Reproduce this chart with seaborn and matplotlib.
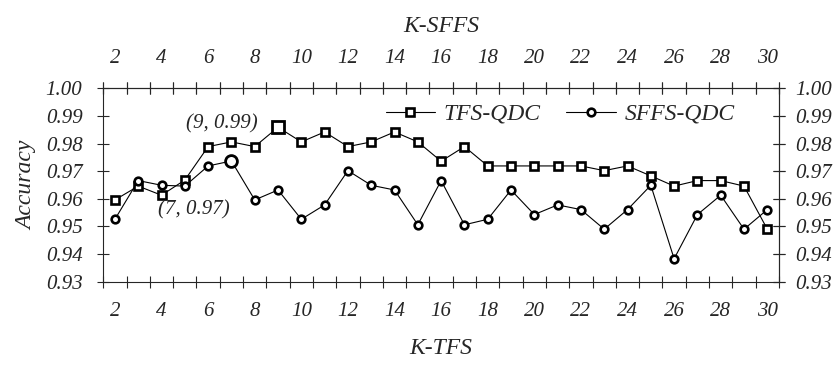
import matplotlib
matplotlib.use("Agg")
import matplotlib.pyplot as plt
import seaborn as sns
from matplotlib.ticker import FixedLocator, NullFormatter

# Number of selected features (shared category axis)
k_values = list(range(2, 31))

# Accuracy per feature count
tfs_qdc = [0.9596, 0.9646, 0.9613, 0.9668, 0.9789, 0.9806, 0.9789, 0.9859, 0.9806,
           0.9842, 0.9789, 0.9806, 0.9842, 0.9806, 0.9736, 0.9789, 0.9719, 0.9719,
           0.9719, 0.9719, 0.9719, 0.9702, 0.9719, 0.9683, 0.9646, 0.9666, 0.9666,
           0.9646, 0.9490]
sffs_qdc = [0.9526, 0.9666, 0.9649, 0.9646, 0.9719, 0.9737, 0.9596, 0.9632, 0.9526,
            0.9578, 0.9702, 0.9649, 0.9632, 0.9506, 0.9666, 0.9506, 0.9526, 0.9632,
            0.9543, 0.9578, 0.9561, 0.9490, 0.9561, 0.9649, 0.9383, 0.9543, 0.9613,
            0.9490, 0.9561]

series_names = ["TFS-QDC", "SFFS-QDC"]
best_k = [9, 7]
best_labels = ["(9, 0.99)", "(7, 0.97)"]
y_ticks = [0.93, 0.94, 0.95, 0.96, 0.97, 0.98, 0.99, 1.00]
x_labels = k_values[::2]

sns.set_style("ticks")
plt.rcParams["font.family"] = ["Liberation Serif", "DejaVu Serif"]
plt.rcParams["font.style"] = "italic"

fig = plt.figure(figsize=(8.35, 3.67), dpi=100)
ax = fig.add_axes([0.1237, 0.2324, 0.8092, 0.527])

line_kw = dict(color="black", linewidth=0.8, markerfacecolor="white",
               markeredgecolor="black", markeredgewidth=1.9, markersize=5.5)
sns.lineplot(x=k_values, y=tfs_qdc, marker="s", ax=ax, **line_kw)
sns.lineplot(x=k_values, y=sffs_qdc, marker="o", ax=ax, **line_kw)
handles = ax.get_lines()[:2]

# highlighted best points
for vals, mk, kb in zip([tfs_qdc, sffs_qdc], ["s", "o"], best_k):
    i = k_values.index(kb)
    ax.plot([kb], [vals[i]], marker=mk, markersize=8.5, markerfacecolor="white",
            markeredgecolor="black", markeredgewidth=2.0, linestyle="none")

ax.annotate(best_labels[0], xy=(6.58, 0.9873), ha="center", va="center", fontsize=15)
ax.annotate(best_labels[1], xy=(5.38, 0.9560), ha="center", va="center", fontsize=15)

ax.legend(handles, series_names, ncol=2, frameon=False, fontsize=17,
          loc="center", bbox_to_anchor=(0.676, 0.867), handlelength=2.1,
          handletextpad=0.35, columnspacing=1.1, borderpad=0)

half_ticks = [k - 0.5 for k in k_values] + [k_values[-1] + 0.5]
ax.set_xlim(half_ticks[0], half_ticks[-1])
ax.set_ylim(y_ticks[0], y_ticks[-1])

ax.set_xticks(x_labels)
ax.set_xticklabels([str(k) for k in x_labels])
ax.xaxis.set_minor_locator(FixedLocator(half_ticks))
ax.tick_params(axis="x", which="major", length=0, pad=14.5, labelsize=15)
ax.tick_params(axis="x", which="minor", direction="inout", length=9, width=0.8,
               top=True, bottom=True)
ax.set_yticks(y_ticks)
ax.set_yticklabels([f"{v:.2f}" for v in y_ticks])
ax.tick_params(axis="y", which="major", direction="inout", length=9, width=0.8,
               pad=10.5, labelsize=15, left=True, right=True)
for s in ax.spines.values():
    s.set_linewidth(0.8)
    s.set_visible(True)

ax.set_xlabel("K-TFS", fontsize=17, labelpad=12)
ax.set_ylabel("Accuracy", fontsize=17, labelpad=6)

top = ax.secondary_xaxis("top")
top.set_xticks(x_labels)
top.set_xticklabels([str(k) for k in x_labels])
top.tick_params(axis="x", which="major", length=0, pad=14.5, labelsize=15)
top.xaxis.set_minor_locator(FixedLocator(half_ticks))
top.xaxis.set_minor_formatter(NullFormatter())
top.tick_params(axis="x", which="minor", direction="inout", length=9, width=0.8)
top.spines["top"].set_linewidth(0.8)
top.set_xlabel("K-SFFS", fontsize=17, labelpad=12)

right = ax.secondary_yaxis("right")
right.set_yticks(y_ticks)
right.set_yticklabels([f"{v:.2f}" for v in y_ticks])
right.tick_params(axis="y", direction="inout", length=9, width=0.8, pad=7,
                  labelsize=15)
right.spines["right"].set_linewidth(0.8)

fig.savefig("out.png", dpi=100)
